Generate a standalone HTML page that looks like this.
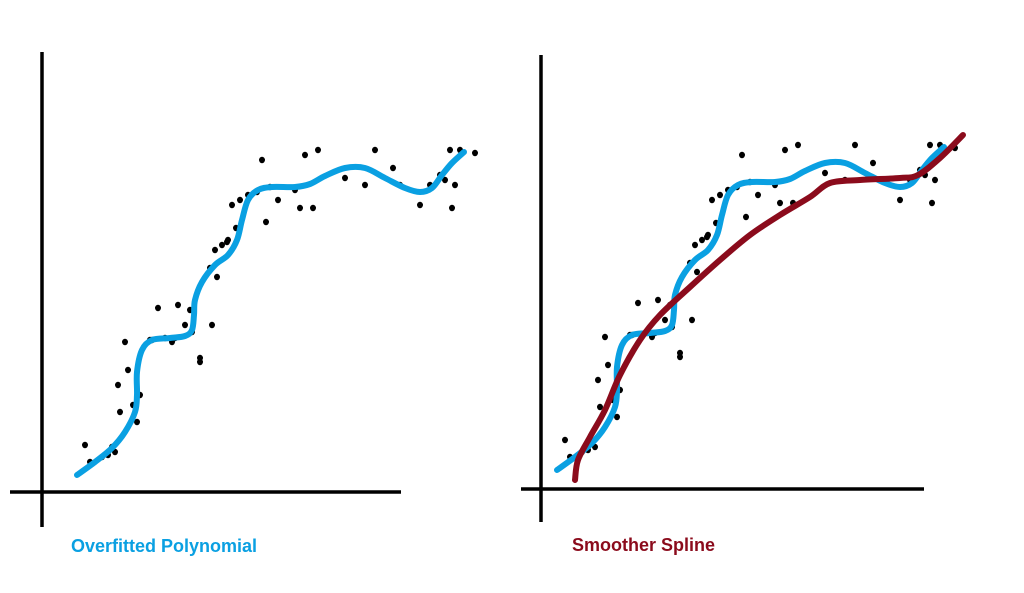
<!DOCTYPE html>
<html><head><meta charset="utf-8"><style>
html,body{margin:0;padding:0;background:#fff;width:1024px;height:593px;overflow:hidden}
svg{display:block}
text{font-family:"Liberation Sans",sans-serif;font-weight:bold;font-size:18px}
</style></head><body>
<svg id="c" width="1024" height="593">
<g>
<line x1="42" y1="52" x2="42" y2="527" stroke="#000" stroke-width="3.5"/>
<line x1="10" y1="492" x2="401" y2="492" stroke="#000" stroke-width="3.5"/>
<text x="71" y="552" fill="#0aa0e2">Overfitted Polynomial</text>
</g>
<g>
<line x1="541" y1="55" x2="541" y2="522" stroke="#000" stroke-width="3.5"/>
<line x1="521" y1="489" x2="924" y2="489" stroke="#000" stroke-width="3.5"/>
<text x="572" y="551" fill="#8b0b1c">Smoother Spline</text>
</g>
</svg>
<script>
const dotX=[43,48,66,73,76,78,83,86,91,98,108,116,123,133,136,143,148,158,158,170,168,173,180,186,190,194,198,206,220,224,236,253,258,263,271,276,303,323,333,351,358,378,388,398,403,408,410,418,433,413,60,70,95,110,130,150,175,185,215,228];
const dotY=[47,30,37,40,107,80,150,122,87,97,152,184,154,154,187,167,182,134,130,167,224,242,247,252,287,264,292,297,332,270,292,302,284,337,284,342,314,307,342,324,307,287,307,317,312,342,284,342,339,307,35,45,70,152,150,160,215,250,300,305];
const blueX=[35,53,70,83,93,95,95,100,110,128,143,150,152,153,160,173,186,195,200,206,216,230,253,268,283,303,323,343,363,378,390,400,410,422];
const blueY=[17,30,44,60,80,97,120,142,152,154,156,162,177,192,210,227,237,252,272,292,302,305,305,308,316,324,324,314,304,300,304,317,329,340];
const redX=[53,56,68,83,98,118,138,168,198,228,258,288,308,338,378,396,418,441];
const redY=[7,27,50,77,112,147,172,200,227,252,272,290,304,307,309,312,329,352];

const svg=document.getElementById('c');
const NS='http://www.w3.org/2000/svg';
function panel(ox,oy){return {xs:v=>ox+v, ys:v=>oy-v};}
const L=panel(42,492), R=panel(522,487);
function pathD(xs,ys,p){
  const pts=xs.map((x,i)=>[p.xs(x),p.ys(ys[i])]);
  let d='M'+pts[0][0]+','+pts[0][1];
  for(let i=0;i<pts.length-1;i++){
    const p0=pts[i-1]||pts[i],p1=pts[i],p2=pts[i+1],p3=pts[i+2]||p2;
    d+=' C'+(p1[0]+(p2[0]-p0[0])/6)+','+(p1[1]+(p2[1]-p0[1])/6)+' '+(p2[0]-(p3[0]-p1[0])/6)+','+(p2[1]-(p3[1]-p1[1])/6)+' '+p2[0]+','+p2[1];
  }
  return d;
}
function dots(p,name){
  for(let i=0;i<dotX.length;i++){
    const e=document.createElementNS(NS,'ellipse');
    e.setAttribute('cx',p.xs(dotX[i]));e.setAttribute('cy',p.ys(dotY[i]));
    e.setAttribute('rx',3);e.setAttribute('ry',3.2);e.setAttribute('fill','#000');
    
    
    svg.appendChild(e);
  }
}
function curve(xs,ys,p,color,name){
  const e=document.createElementNS(NS,'path');
  e.setAttribute('d',pathD(xs,ys,p));e.setAttribute('fill','none');
  e.setAttribute('stroke',color);e.setAttribute('stroke-width',6);
  e.setAttribute('stroke-linecap','round');e.setAttribute('stroke-linejoin','round');
  
  
  svg.appendChild(e);
}
dots(L,'left-data-point');
curve(blueX,blueY,L,'#0aa0e2','left-polynomial-curve');
dots(R,'right-data-point');
curve(blueX,blueY,R,'#0aa0e2','right-polynomial-curve');
curve(redX,redY,R,'#8b0b1c','spline-curve');
</script>
</body></html>
